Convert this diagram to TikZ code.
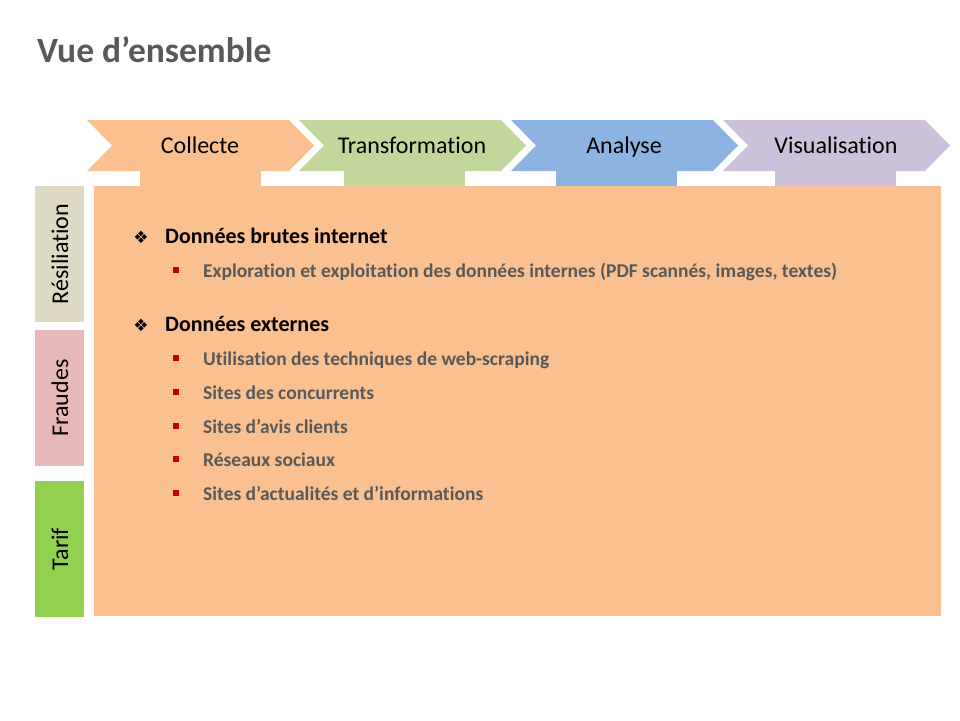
\documentclass[tikz,border=0pt]{standalone}
\usepackage{fontspec}
\setmainfont[Ligatures=NoCommon]{Carlito}
\newfontfamily\dejavu{DejaVu Sans}
\definecolor{collcol}{HTML}{FAC090}
\definecolor{transcol}{HTML}{C3D69B}
\definecolor{analcol}{HTML}{8DB3E2}
\definecolor{viscol}{HTML}{CCC1DA}
\definecolor{resilcol}{HTML}{DDD9C3}
\definecolor{fraudcol}{HTML}{E6B9B8}
\definecolor{tarifcol}{HTML}{92D050}
\definecolor{txtgray}{HTML}{595959}
\definecolor{bulred}{HTML}{C00000}

\begin{document}
\begin{tikzpicture}[x=1pt,y=-1pt,
 phase/.style={anchor=base,inner sep=0pt,font=\fontsize{24}{28}\selectfont,text=black},
 side/.style={anchor=base,rotate=90,inner sep=0pt,font=\fontsize{24}{28}\selectfont,text=black},
 head/.style={anchor=base west,font=\fontsize{22}{26}\selectfont\bfseries,text=black,inner sep=0pt},
 sub/.style={anchor=base west,font=\fontsize{19.5}{23}\selectfont\bfseries,text=txtgray,inner sep=0pt},
 diam/.style={inner sep=0pt,font=\dejavu\fontsize{17}{19}\selectfont}]
 \useasboundingbox (0,0) rectangle (960,720);
 \node[anchor=base west,inner sep=0pt,text=txtgray,font=\fontsize{35.5}{40}\selectfont\bfseries] (title) at (37,62) {Vue d’ensemble};
 % chevrons and tabs
 \foreach \i/\lab/\col/\tx in {0/Collecte/collcol/140,1/Transformation/transcol/344,2/Analyse/analcol/556,3/Visualisation/viscol/775}{
  \pgfmathsetmacro\x{87+212*\i}
  \fill[\col] (\x,120)--(\x+202,120)--(\x+227,145.5)--(\x+202,171)--(\x,171)--(\x+25,145.5)--cycle;
  \fill[\col] (\tx,170) rectangle (\tx+121,187);
  \node[phase] (phase\i) at (\x+113,153) {\lab};
 }
 \fill[collcol] (94,186) rectangle (941,616);
 % side boxes
 \fill[resilcol] (35,186) rectangle (84,322);
 \fill[fraudcol] (35,330) rectangle (84,466);
 \fill[tarifcol] (35,481) rectangle (84,617);
 \node[side] (resil) at (68,254) {Résiliation};
 \node[side] (fraud) at (68,398) {Fraudes};
 \node[side] (tarif) at (68,549) {Tarif};
 % items
 \node[diam] (b1) at (141,237) {❖};
 \node[head] (h1) at (165,243) {Données brutes internet};
 \node[diam] (b2) at (141,325) {❖};
 \node[head] (h2) at (165,331) {Données externes};
 \foreach \y/\txt [count=\k] in {271/Exploration et exploitation des données internes (PDF scannés{,} images{,} textes),
   359/Utilisation des techniques de web-scraping,393/Sites des concurrents,427/Sites d’avis clients,
   460/Réseaux sociaux,494/Sites d’actualités et d’informations}{
  \fill[bulred] (173,\y-4) rectangle (179,\y+2);
  \node[sub] (s\k) at (203,\y+6) {\txt};
 }
\end{tikzpicture}
\end{document}
